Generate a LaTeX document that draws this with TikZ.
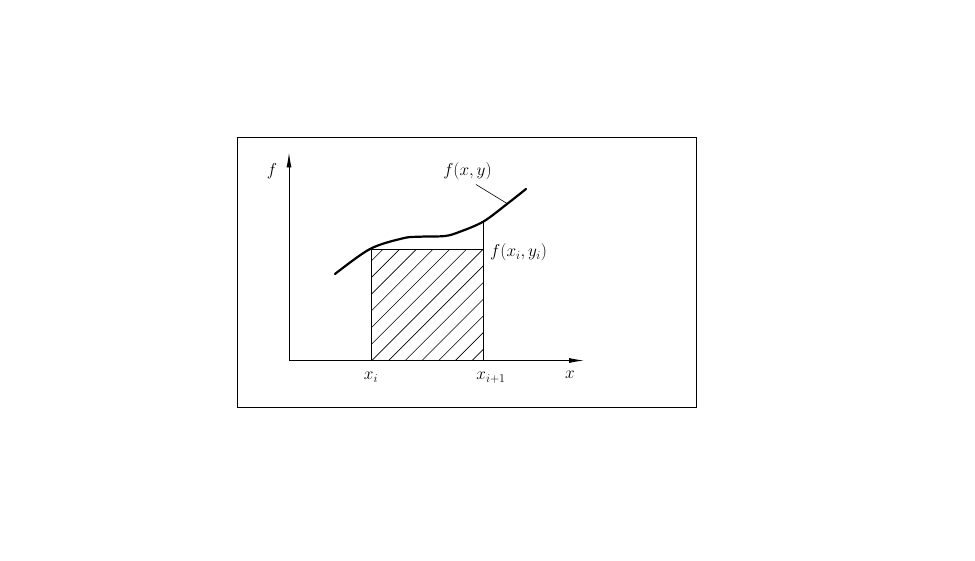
\documentclass[tikz,border=0pt]{standalone}
\usetikzlibrary{arrows.meta}
\begin{document}
\begin{tikzpicture}[x=1pt,y=-1pt,
  lbl/.style={inner sep=0pt,font=\fontsize{18}{21}\selectfont},
  axis/.style={line width=0.9pt,-{Latex[length=15pt,width=5pt]}},
  thin line/.style={line width=0.9pt},
  curve/.style={line width=2.2pt,line join=round,line cap=round}]
\useasboundingbox (0,0) rectangle (975,561);
\node[draw,line width=0.9pt,minimum width=459pt,minimum height=269pt,inner sep=0pt,anchor=north west] (frame) at (236.5,137.5) {};
\coordinate (o) at (289,360.5);
\coordinate (ytip) at (289,152.5);
\coordinate (xtip) at (584,360.5);
\coordinate (a) at (371.5,360.5);
\coordinate (b) at (483.5,360.5);
\coordinate (at) at (371.5,249.5);
\coordinate (bt) at (483.5,249.5);
\coordinate (bc) at (483.5,221.5);
% hatching
\begin{scope}
\clip (a) rectangle (bt);
\foreach \k in {0,...,14} {
  \draw[line width=0.6pt] ({255+\k*16.7},360.5) -- ({255+\k*16.7+111},249.5);
}
\end{scope}
\draw[thin line] (a) -- (at) -- (bt) -- (b);
\draw[thin line] (bt) -- (bc);
\draw[axis] (o) -- (ytip);
\draw[axis] (o) -- (xtip);
\draw[curve] plot[smooth,tension=0.55] coordinates {(335,274) (370,249) (403,238.3) (420,236.7) (445,236) (460,231.7) (483.5,221.5) (507,204) (526,189)};
\coordinate (lead1) at (476,184.5);
\coordinate (lead2) at (507,203.5);
\draw[line width=0.6pt] (lead1) -- (lead2);
\node[lbl] (fxy) at (467.5,171) {$f(x,y)$};
\node[lbl] (f) at (272,171) {$f$};
\node[lbl] (xi) at (371,377) {$x_i$};
\node[lbl] (xi1) at (491,378) {$x_{i+1}$};
\node[lbl] (x) at (570,375) {$x$};
\node[lbl,anchor=west] (fxiyi) at (490,252.5) {$f(x_i,y_i)$};
\end{tikzpicture}
\end{document}
